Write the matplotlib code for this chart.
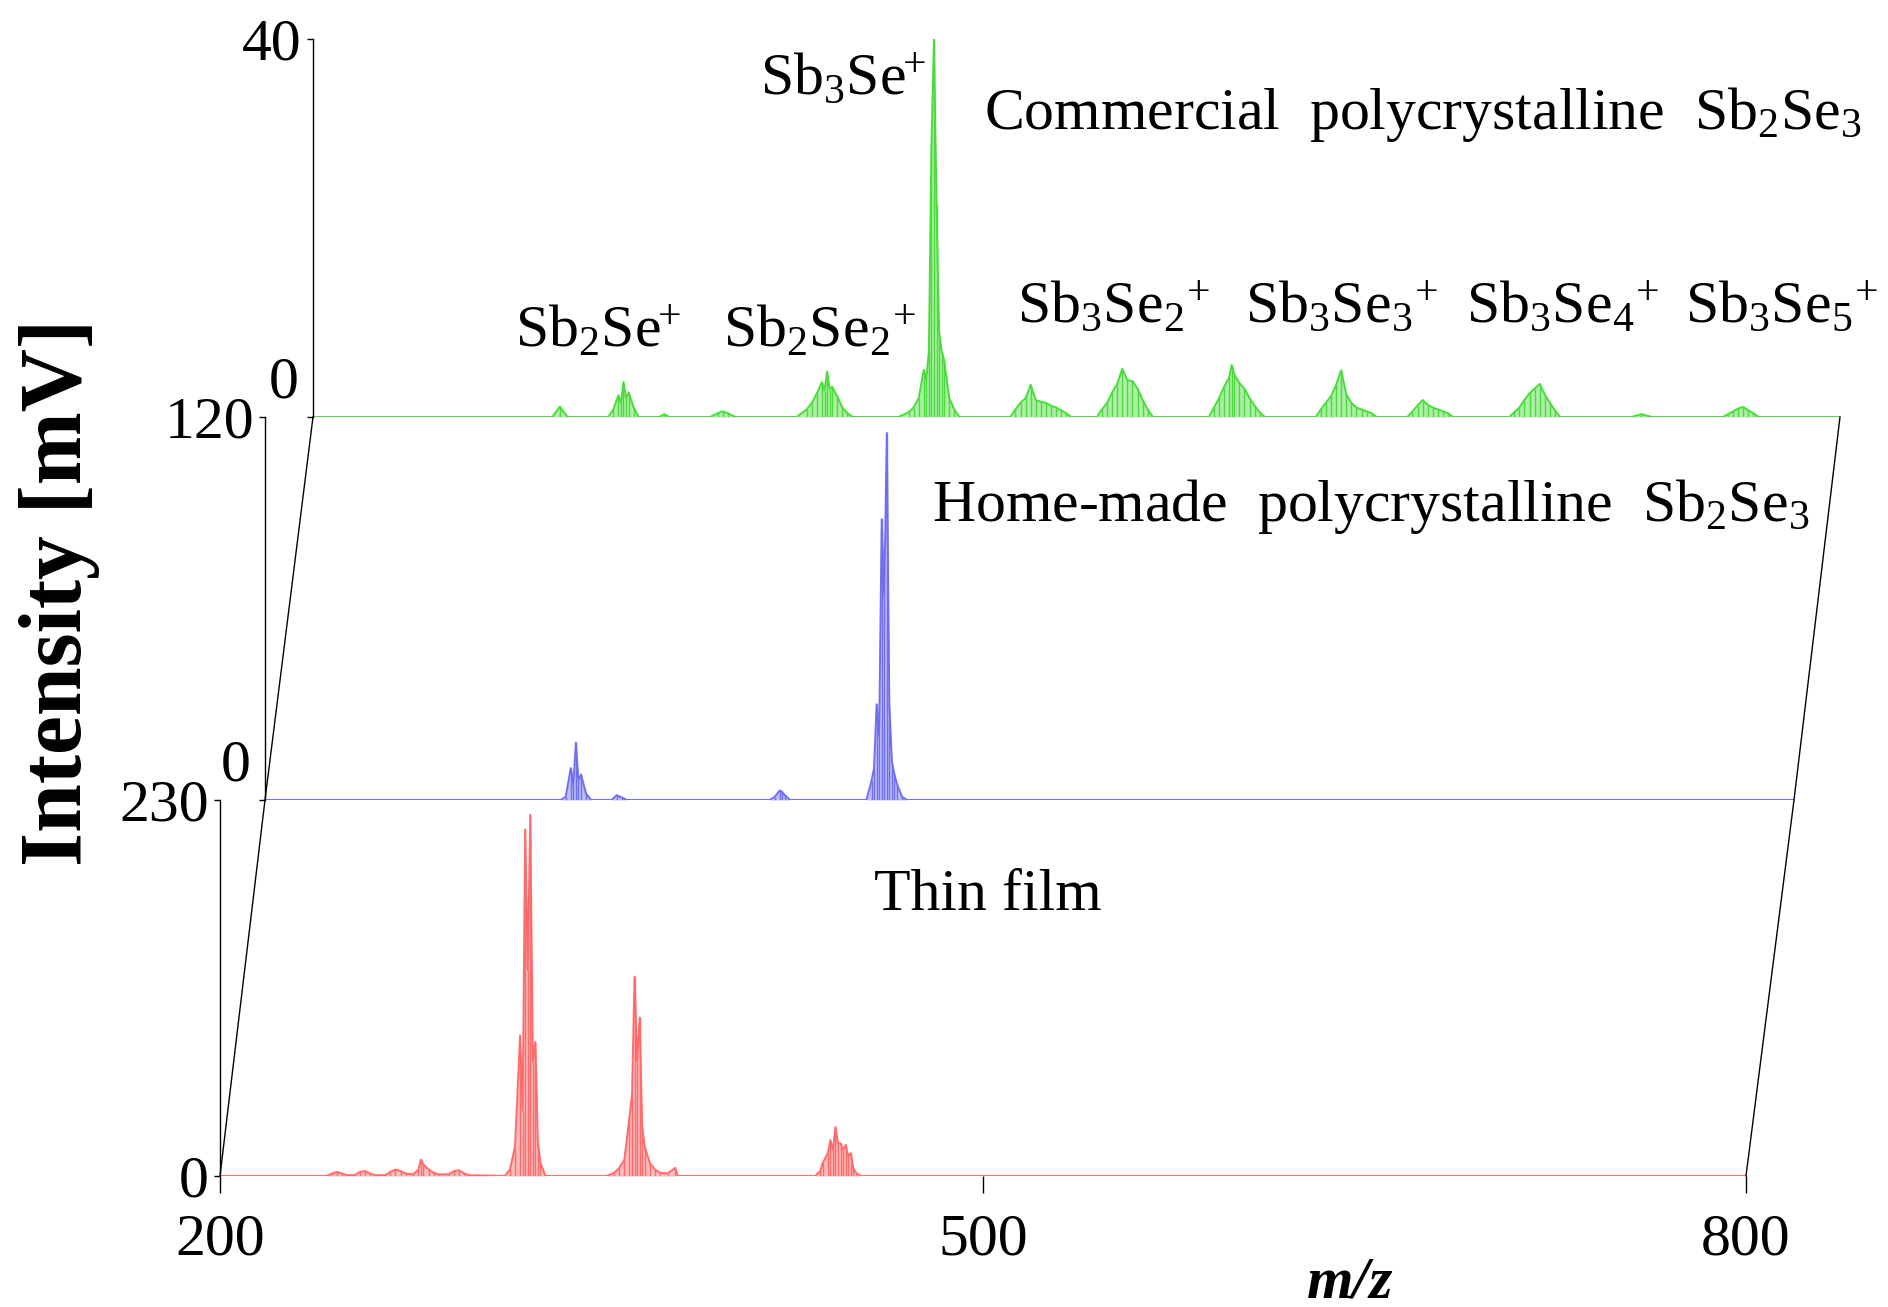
import matplotlib
matplotlib.use("Agg")
import matplotlib.pyplot as plt
from matplotlib.lines import Line2D

plt.rcParams["font.family"] = "Liberation Serif"
plt.rcParams["mathtext.fontset"] = "custom"
plt.rcParams["mathtext.rm"] = "Liberation Serif"
plt.rcParams["mathtext.it"] = "Liberation Serif:italic"
plt.rcParams["mathtext.bf"] = "Liberation Serif:bold"

# ---- spectra (m/z, intensity in mV) ----
thin_mz = [200, 242, 244, 246, 248, 250, 253, 255, 257, 259, 261, 265, 267, 269, 271, 273,
           276, 278, 279, 280, 282, 284, 286, 290, 292, 294, 296, 298,
           312, 314, 316, 318, 319, 320, 321, 322, 323, 324, 325, 326, 328,
           352, 355, 357, 359, 361, 362, 363, 364, 365, 366, 367, 369, 371, 373, 376, 379, 380,
           434, 436, 437, 439, 440, 441, 442, 443, 444, 445, 446, 447, 448, 449, 450, 452, 800]
thin_int = [0, 0, 1.5, 2.5, 1.5, 0.5, 0.5, 2.5, 3, 1.5, 0.5, 0.5, 2.5, 4, 3, 1.5,
            1, 4, 10, 7, 4, 2, 1, 1, 3, 3.5, 1.5, 0.5,
            0, 4, 18, 86, 40, 212, 126, 221, 70, 82, 20, 8, 0,
            0, 2, 5, 10, 36, 50, 122, 70, 97, 30, 18, 8, 4, 2, 1.5, 5, 0,
            0, 3, 8, 14, 22, 16, 30, 20, 20, 16, 19, 12, 14, 5, 2, 0, 0]

home_mz = [200, 316, 318, 320, 321, 322, 323, 324, 326, 328, 336, 338, 340, 342,
           398, 400, 402, 403, 404, 406,
           436, 438, 439, 440, 441, 442, 443, 444, 445, 446, 447, 448, 450, 452, 800]
home_int = [0, 0, 1, 10, 5, 18, 6, 8, 2, 0, 0, 1.5, 0.8, 0,
            0, 1, 3, 2.5, 1.5, 0,
            0, 6, 10, 30, 20, 88, 64, 115, 30, 12, 8, 5, 1, 0, 0]

comm_mz = [200, 294, 297, 300, 316, 318, 320, 321, 322, 323, 324, 326, 328, 336, 338, 340,
           356, 359, 361, 363, 366,
           390, 394, 396, 398, 400, 401, 402, 403, 404, 406, 408, 410, 412,
           430, 434, 436, 438, 440, 441, 442, 443, 444, 445, 446, 447, 448, 450, 452, 454,
           474, 476, 478, 480, 482, 484, 486, 488, 490, 492, 494, 496, 498,
           508, 510, 512, 514, 516, 518, 520, 522, 524, 526, 528, 530,
           552, 554, 556, 558, 560, 561, 562, 564, 566, 568, 570, 572, 574,
           594, 596, 598, 600, 602, 604, 606, 608, 610, 612, 614, 616, 618,
           630, 632, 634, 636, 638, 640, 642, 644, 646, 648,
           670, 672, 674, 676, 678, 680, 682, 684, 686, 688, 690,
           718, 722, 726, 754, 756, 758, 760, 762, 764, 766, 768, 800]
comm_int = [0, 0, 1.1, 0, 0, 0.8, 2.3, 1.5, 3.7, 2.0, 2.6, 1.0, 0, 0, 0.3, 0,
            0, 0.4, 0.6, 0.4, 0,
            0, 0.8, 1.5, 2.5, 3.7, 2.8, 4.8, 3.0, 3.2, 2.2, 1.0, 0.4, 0,
            0, 0.5, 1.0, 2.0, 5.0, 4.0, 7.0, 28.7, 40, 22.5, 9, 7, 6, 2, 0.8, 0,
            0, 0.8, 1.5, 2.0, 3.4, 1.8, 1.6, 1.5, 1.2, 1.0, 0.7, 0.4, 0,
            0, 0.8, 1.5, 2.6, 3.5, 5.1, 3.9, 3.8, 3.0, 1.8, 0.8, 0,
            0, 1.0, 2.0, 3.2, 4.2, 5.5, 4.5, 3.6, 3.0, 2.0, 1.2, 0.5, 0,
            0, 0.8, 1.5, 2.2, 3.4, 4.95, 2.4, 1.5, 1.0, 0.8, 0.6, 0.4, 0,
            0, 0.6, 1.2, 1.8, 1.3, 1.0, 0.8, 0.6, 0.4, 0,
            0, 0.5, 1.0, 1.8, 2.5, 3.0, 3.5, 2.4, 1.5, 0.7, 0,
            0, 0.3, 0, 0, 0.3, 0.6, 0.9, 1.06, 0.7, 0.4, 0, 0]

spectra_mz = [thin_mz, home_mz, comm_mz]
spectra_int = [thin_int, home_int, comm_int]
y_max = [230, 120, 40]
colors = ["#ff6b6b", "#7070ee", "#4cdb3c"]
names = ["Thin film",
         r"Home-made  polycrystalline  Sb$_2$Se$_3$",
         r"Commercial  polycrystalline  Sb$_2$Se$_3$"]
name_pos = [(502, 171), (634, 92), (636, 32)]

ions = [r"$\mathrm{Sb_2Se}^{\!\!+}$", r"$\mathrm{Sb_2Se_2}^{\!+}$", r"$\mathrm{Sb_3Se}^{\!\!+}$",
        r"$\mathrm{Sb_3Se_2}^{\!+}$", r"$\mathrm{Sb_3Se_3}^{\!+}$", r"$\mathrm{Sb_3Se_4}^{\!+}$",
        r"$\mathrm{Sb_3Se_5}^{\!+}$"]
ion_pos = [(312, 8.9), (399, 8.9), (408, 35.6), (514.5, 11.5),
           (604, 11.5), (691, 11.5), (777, 11.5)]

W, H = 1888, 1307
fig = plt.figure(figsize=(W / 100, H / 100), dpi=100)

# panel boxes in pixels: left, right, baseline, top (measured from top edge)
boxes = [(220, 1746, 1176, 800), (265, 1794, 800, 417), (313, 1840, 417, 39)]
FS = 43

axes = []
for i, (l, r, b, t) in enumerate(boxes):
    ax = fig.add_axes([l / W, 1 - b / H, (r - l) / W, (b - t) / H])
    ax.patch.set_visible(False)
    mz, it, c = spectra_mz[i], spectra_int[i], colors[i]
    ax.fill_between(mz, it, 0, color=c, alpha=0.45, lw=0)
    ax.vlines(mz, 0, it, color=c, lw=1.0)
    ax.plot(mz, it, color=c, lw=1.4)
    ax.set_xlim(200, 800)
    ax.set_ylim(0, y_max[i])
    for s in ["top", "right", "bottom"]:
        ax.spines[s].set_visible(False)
    ax.spines["left"].set_linewidth(1.0)
    ax.tick_params(axis="y", direction="out", length=4, width=1, labelsize=FS, pad=4)
    if i == 0:
        ax.set_yticks([0, y_max[i]])
        ax.set_xticks([200, 500, 800])
        ax.tick_params(axis="x", direction="out", length=12, width=1, labelsize=FS, pad=15)
    else:
        ax.set_yticks([0, y_max[i]], ["", str(y_max[i])])
        ax.set_xticks([])
        ax.annotate("0", xy=(0, 0), xycoords="axes fraction", xytext=(-10, 24),
                    textcoords="offset points", ha="right", va="center", fontsize=FS)
    ax.text(*name_pos[i], names[i], fontsize=FS, ha="center", va="center", clip_on=False)
    axes.append(ax)

for lab, (x, y) in zip(ions, ion_pos):
    axes[2].text(x, y, lab, fontsize=FS, ha="center", va="center", clip_on=False)

# slanted edges joining the three panels
pos = [a.get_position() for a in axes]
fig.add_artist(Line2D([p.x0 for p in pos], [p.y0 for p in pos], color="black", lw=1.0))
fig.add_artist(Line2D([p.x1 for p in pos], [p.y0 for p in pos], color="black", lw=1.0))

fig.text(60 / W, 1 - 592 / H, "Intensity [mV]", rotation=90, fontsize=63,
         fontweight="bold", ha="center", va="center")
fig.text(1350 / W, 1 - 1297 / H, "m/z", fontsize=FS, fontweight="bold",
         fontstyle="italic", ha="center", va="baseline")

fig.savefig("out.png", dpi=100)
